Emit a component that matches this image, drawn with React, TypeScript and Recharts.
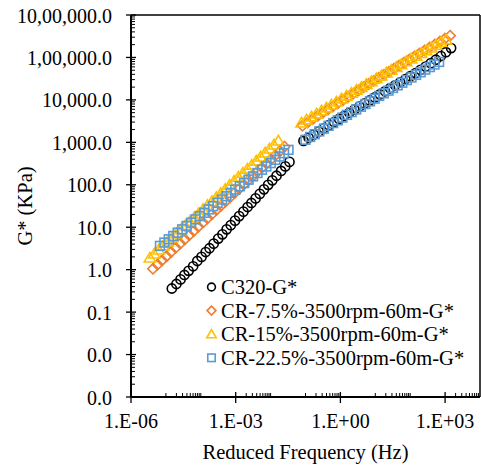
import React from "react";
import { ScatterChart, Scatter, XAxis, YAxis, ReferenceLine } from "recharts";

const FONT = '"Liberation Serif", "Times New Roman", serif';

// axis ticks
const xMajorTicks = [1e-6, 1e-3, 1, 1e3];
const xMajorLabels = ["1.E-06", "1.E-03", "1.E+00", "1.E+03"];
const xMinorTicks = [
  1e-5, 2e-5, 3e-5, 4e-5, 5e-5, 6e-5, 7e-5, 8e-5, 9e-5, 1e-4,
  2e-3, 3e-3, 4e-3, 5e-3, 6e-3, 7e-3, 8e-3, 9e-3, 1e-2,
  0.1, 0.2, 0.3, 0.4, 0.5, 0.6, 0.7, 0.8, 0.9,
  10, 20, 30, 40, 50, 60, 70, 80, 90, 100,
  2e3, 3e3, 4e3, 5e3, 6e3, 7e3, 8e3, 9e3,
];
const yMajorTicks = [1e-3, 1e-2, 1e-1, 1, 10, 100, 1e3, 1e4, 1e5, 1e6];
const yMajorLabels = [
  "0.0", "0.0", "0.1", "1.0", "10.0", "100.0",
  "1,000.0", "10,000.0", "1,00,000.0", "10,00,000.0",
];
const yMinorTicks = yMajorTicks.slice(0, -1).flatMap((d) =>
  [2, 3, 4, 5, 6, 7, 8, 9].map((n) => n * d)
);

// C320-G*
const c320FreqLow = [1.48e-5, 2.0e-5, 2.63e-5, 3.39e-5, 4.47e-5, 6.03e-5, 7.94e-5, 1.05e-4, 1.38e-4, 1.78e-4, 2.34e-4, 3.16e-4, 4.17e-4, 5.5e-4, 7.24e-4, 9.55e-4, 1.26e-3, 1.66e-3, 2.19e-3, 2.82e-3, 3.72e-3, 4.9e-3, 6.46e-3, 8.51e-3, 1.12e-2, 1.48e-2, 2.0e-2, 2.63e-2, 3.47e-2];
const c320GLow = [0.36, 0.46, 0.59, 0.75, 0.94, 1.2, 1.6, 2.0, 2.6, 3.2, 4.1, 5.4, 6.8, 8.9, 11.2, 14.3, 18.3, 23.3, 29.9, 37.3, 47.8, 61, 78, 99.5, 127, 163, 212, 271, 346];
const c320FreqHigh = [0.0877, 0.123, 0.172, 0.24, 0.336, 0.47, 0.658, 0.92, 1.29, 1.8, 2.52, 3.52, 4.93, 6.89, 9.64, 13.5, 18.9, 26.4, 36.9, 51.6, 72.3, 101, 142, 198, 277, 387, 542, 759, 1059, 1483];
const c320GHigh = [1079, 1279, 1521, 1803, 2142, 2540, 3008, 3565, 4217, 4989, 5899, 6970, 8241, 9705, 11460, 13520, 15950, 18780, 22090, 26000, 30600, 36220, 42850, 50930, 60950, 73110, 88310, 107900, 133000, 166300];

// CR-7.5%-3500rpm-60m-G*
const cr75FreqLow = [4.27e-6, 5.75e-6, 7.76e-6, 1.05e-5, 1.41e-5, 1.91e-5, 2.57e-5, 3.47e-5, 4.68e-5, 6.31e-5, 8.51e-5, 1.15e-4, 1.55e-4, 2.09e-4, 2.82e-4, 3.8e-4, 5.13e-4, 6.92e-4, 9.33e-4, 1.26e-3, 1.7e-3, 2.29e-3, 3.09e-3, 4.17e-3, 5.62e-3, 7.59e-3, 1.02e-2, 1.38e-2, 1.86e-2, 2.51e-2];
const cr75GLow = [1.05, 1.32, 1.65, 2.08, 2.61, 3.28, 4.12, 5.18, 6.51, 8.18, 10.3, 12.9, 16.2, 20.4, 25.6, 32.2, 40.5, 50.8, 64, 80.4, 101, 127, 159, 200, 252, 316, 397, 499, 628, 789];
const cr75FreqHigh = [0.082, 0.115, 0.161, 0.224, 0.314, 0.44, 0.615, 0.861, 1.2, 1.68, 2.36, 3.3, 4.61, 6.44, 9.02, 12.6, 17.7, 24.7, 34.5, 48.3, 67.6, 94.6, 132, 185, 259, 362, 507, 710, 991, 1387];
const cr75GHigh = [2466, 2946, 3517, 4191, 5000, 5957, 7091, 8433, 10020, 11910, 14130, 16790, 19900, 23550, 27880, 33040, 39000, 46130, 54450, 64270, 75860, 89380, 105200, 123800, 145600, 171400, 201300, 236300, 276800, 324600];

// CR-15%-3500rpm-60m-G*
const cr15FreqLow = [3.47e-6, 4.65e-6, 6.22e-6, 8.34e-6, 1.12e-5, 1.5e-5, 2.0e-5, 2.69e-5, 3.6e-5, 4.82e-5, 6.46e-5, 8.65e-5, 1.16e-4, 1.55e-4, 2.08e-4, 2.79e-4, 3.73e-4, 5.0e-4, 6.7e-4, 8.97e-4, 1.2e-3, 1.61e-3, 2.16e-3, 2.89e-3, 3.87e-3, 5.19e-3, 6.95e-3, 9.31e-3, 1.25e-2, 1.67e-2];
const cr15GLow = [1.91, 2.37, 2.95, 3.67, 4.57, 5.7, 7.09, 8.83, 11, 13.7, 17, 21.2, 26.4, 32.8, 40.8, 50.9, 63.4, 78.8, 98.2, 122, 152, 189, 236, 293, 365, 455, 566, 705, 877, 1090];
const cr15FreqHigh = [0.0769, 0.107, 0.149, 0.207, 0.287, 0.399, 0.553, 0.769, 1.07, 1.49, 2.07, 2.87, 3.99, 5.53, 7.69, 10.7, 14.9, 20.7, 28.7, 39.9, 55.3, 76.9, 107, 149, 207, 287, 399, 553, 769, 1069];
const cr15GHigh = [2897, 3414, 4018, 4735, 5570, 6546, 7691, 9020, 10590, 12420, 14550, 17030, 19950, 23290, 27230, 31840, 37150, 43360, 50580, 58880, 68550, 79770, 92680, 107900, 125300, 145500, 168700, 195400, 226500, 261900];

// CR-22.5%-3500rpm-60m-G*
const cr225FreqLow = [6.76e-6, 9.06e-6, 1.21e-5, 1.63e-5, 2.18e-5, 2.92e-5, 3.91e-5, 5.24e-5, 7.01e-5, 9.4e-5, 1.26e-4, 1.69e-4, 2.26e-4, 3.03e-4, 4.06e-4, 5.43e-4, 7.28e-4, 9.75e-4, 1.31e-3, 1.75e-3, 2.34e-3, 3.14e-3, 4.21e-3, 5.64e-3, 7.55e-3, 1.01e-2, 1.36e-2, 1.82e-2, 2.43e-2, 3.26e-2];
const cr225GLow = [3.63, 4.35, 5.2, 6.22, 7.45, 8.91, 10.7, 12.8, 15.3, 18.3, 21.9, 26.2, 31.3, 37.5, 44.9, 53.7, 64.3, 76.9, 92, 110, 132, 158, 189, 226, 270, 324, 387, 463, 555, 664];
const cr225FreqHigh = [0.1, 0.136, 0.184, 0.249, 0.337, 0.457, 0.619, 0.839, 1.14, 1.54, 2.09, 2.83, 3.84, 5.2, 7.05, 9.55, 12.9, 17.5, 23.8, 32.2, 43.7, 59.2, 80.2, 109, 147, 200, 270, 366, 497, 673];
const cr225GHigh = [1151, 1340, 1558, 1812, 2107, 2449, 2843, 3299, 3828, 4438, 5145, 5962, 6905, 7993, 9252, 10700, 12380, 14300, 16520, 19070, 22010, 25390, 29290, 33770, 38900, 44800, 51560, 59320, 68230, 78390];

const toPoints = (fx: number[], gx: number[]) => fx.map((x, i) => ({ x, y: gx[i] }));

const series = [
  { name: "C320-G*", color: "#000000", shape: "circle", data: [...toPoints(c320FreqLow, c320GLow), ...toPoints(c320FreqHigh, c320GHigh)] },
  { name: "CR-7.5%-3500rpm-60m-G*", color: "#ED7D31", shape: "diamond", data: [...toPoints(cr75FreqLow, cr75GLow), ...toPoints(cr75FreqHigh, cr75GHigh)] },
  { name: "CR-15%-3500rpm-60m-G*", color: "#FFC000", shape: "triangle", data: [...toPoints(cr15FreqLow, cr15GLow), ...toPoints(cr15FreqHigh, cr15GHigh)] },
  { name: "CR-22.5%-3500rpm-60m-G*", color: "#5B9BD5", shape: "square", data: [...toPoints(cr225FreqLow, cr225GLow), ...toPoints(cr225FreqHigh, cr225GHigh)] },
];

function Marker({ shape, color, cx, cy, s = 1 }: any) {
  const sw = 1.6;
  if (shape === "circle") return <circle cx={cx} cy={cy} r={4.6 * s} fill="none" stroke={color} strokeWidth={sw} />;
  if (shape === "diamond") {
    const r = 5.2 * s;
    return <path d={`M${cx},${cy - r}L${cx + r},${cy}L${cx},${cy + r}L${cx - r},${cy}Z`} fill="none" stroke={color} strokeWidth={sw} />;
  }
  if (shape === "triangle") {
    const w = 5.6 * s;
    return <path d={`M${cx},${cy - 5.4 * s}L${cx + w},${cy + 4.2 * s}L${cx - w},${cy + 4.2 * s}Z`} fill="none" stroke={color} strokeWidth={sw} />;
  }
  const h = 4.4 * s;
  return <rect x={cx - h} y={cy - h} width={2 * h} height={2 * h} fill="none" stroke={color} strokeWidth={sw} />;
}

function XTick(props: any) {
  const { x, y, payload } = props;
  const i = xMajorTicks.indexOf(payload.value);
  if (i < 0) return <line x1={x} x2={x} y1={y} y2={y - 4} stroke="#000" strokeWidth={1} />;
  return (
    <g>
      <line x1={x} x2={x} y1={y - 5} y2={y + 6} stroke="#000" strokeWidth={1.3} />
      <text x={x} y={y + 31} textAnchor="middle" fontSize={20} fontFamily={FONT} fill="#000">
        {xMajorLabels[i]}
      </text>
    </g>
  );
}

function YTick(props: any) {
  const { x, y, payload } = props;
  const i = yMajorTicks.indexOf(payload.value);
  if (i < 0) return <line x1={x} x2={x + 4} y1={y} y2={y} stroke="#000" strokeWidth={1} />;
  return (
    <g>
      <line x1={x - 5} x2={x + 5} y1={y} y2={y} stroke="#000" strokeWidth={1.3} />
      <text x={x - 19} y={y + 7.5} textAnchor="end" fontSize={20} fontFamily={FONT} fill="#000">
        {yMajorLabels[i]}
      </text>
    </g>
  );
}

export default function App() {
  return (
    <div style={{ position: "absolute", left: 0, top: 0, width: 481, height: 469, background: "#fff" }}>
      <ScatterChart width={481} height={469} margin={{ top: 15, right: 1, bottom: 0, left: 0 }}>
        <XAxis
          type="number"
          dataKey="x"
          scale="log"
          domain={[1e-6, 1e4]}
          allowDataOverflow
          ticks={[...xMajorTicks, ...xMinorTicks]}
          interval={0}
          tickLine={false}
          tickSize={0}
          tickMargin={0}
          tick={<XTick />}
          axisLine={{ stroke: "#000", strokeWidth: 2 }}
          height={72}
        />
        <YAxis
          type="number"
          dataKey="y"
          scale="log"
          domain={[1e-3, 1e6]}
          allowDataOverflow
          ticks={[...yMajorTicks, ...yMinorTicks]}
          interval={0}
          tickLine={false}
          tickSize={0}
          tickMargin={0}
          tick={<YTick />}
          axisLine={{ stroke: "#000", strokeWidth: 2 }}
          width={131}
        />
        <ReferenceLine y={1e6} stroke="#000" strokeWidth={1.5} ifOverflow="visible" />
        <ReferenceLine x={1e4} stroke="#000" strokeWidth={1.5} ifOverflow="visible" />
        {series.map((s) => (
          <Scatter
            key={s.name}
            name={s.name}
            data={s.data}
            isAnimationActive={false}
            shape={(p: any) => <Marker shape={s.shape} color={s.color} cx={p.cx} cy={p.cy} />}
          />
        ))}
      </ScatterChart>
      <svg
        width={481}
        height={469}
        style={{ position: "absolute", left: 0, top: 0, pointerEvents: "none" }}
      >
        <text transform="translate(32,206) rotate(-90)" textAnchor="middle" fontSize={20.5} fontFamily={FONT} fill="#000">
          G* (KPa)
        </text>
        <text x={305.5} y={459} textAnchor="middle" fontSize={20.5} fontFamily={FONT} fill="#000">
          Reduced Frequency (Hz)
        </text>
        {series.map((s, i) => {
          const cy = 287 + i * 23.6;
          return (
            <g key={s.name}>
              <Marker shape={s.shape} color={s.color} cx={211.5} cy={cy} s={0.85} />
              <text x={221} y={cy + 7} fontSize={20.5} fontFamily={FONT} fill="#000">
                {s.name}
              </text>
            </g>
          );
        })}
      </svg>
    </div>
  );
}
